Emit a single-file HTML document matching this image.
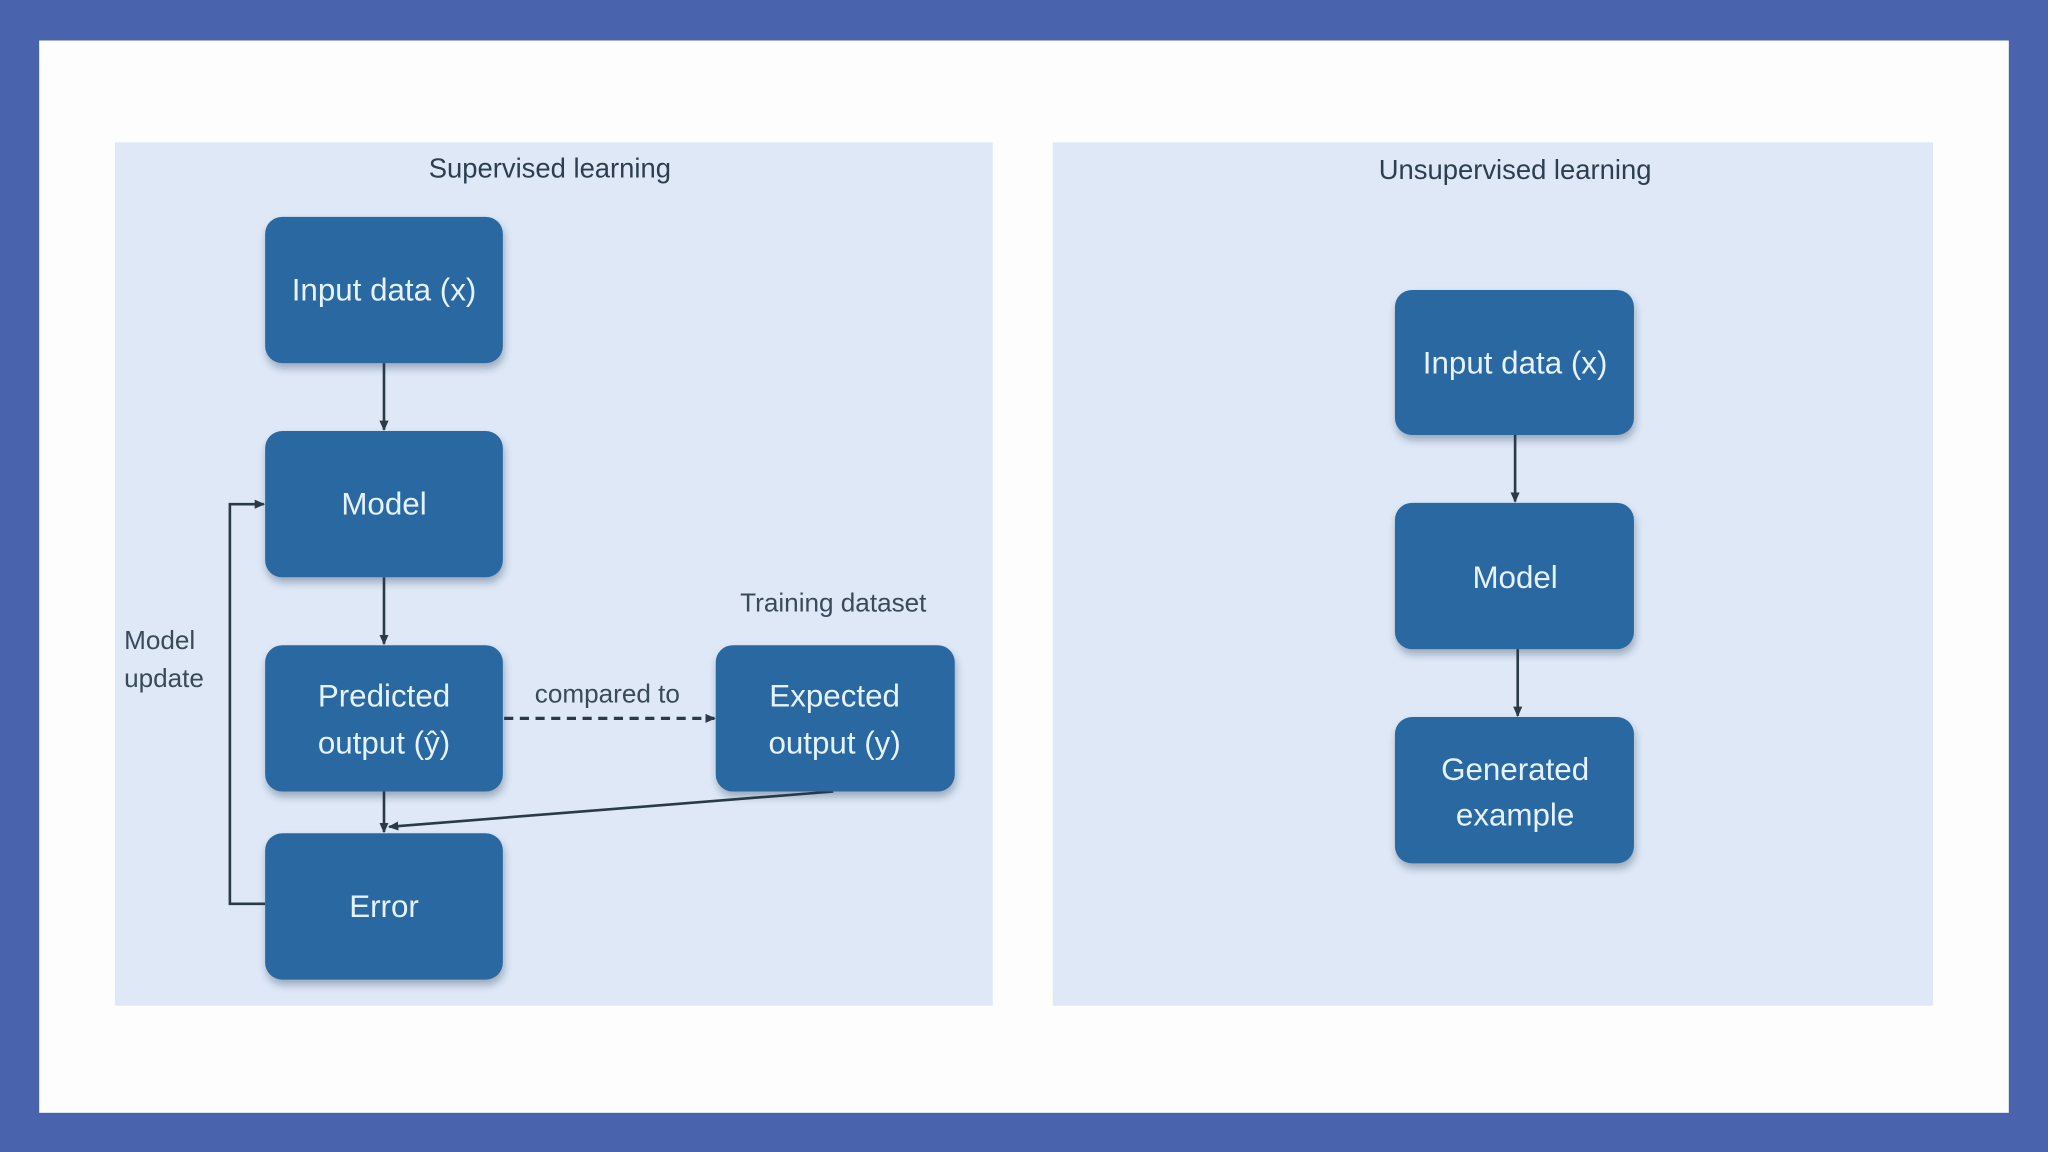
<!DOCTYPE html>
<html><head><meta charset="utf-8">
<style>
html,body{margin:0;padding:0;width:2048px;height:1152px;overflow:hidden;background:#4a63ad;}
svg{display:block}
text{font-family:"Liberation Sans Narrow","Liberation Sans",sans-serif;}
</style></head><body>
<svg width="2048" height="1152" viewBox="0 0 1568 882" xmlns="http://www.w3.org/2000/svg">
<defs>
<filter id="sh" x="-10%" y="-10%" width="130%" height="140%">
<feDropShadow dx="1" dy="4" stdDeviation="3" flood-color="#1a3550" flood-opacity="0.35"/>
</filter>
<marker id="ar" markerWidth="8" markerHeight="8" refX="7" refY="4" orient="auto" markerUnits="userSpaceOnUse">
<path d="M0,0.5 L8,4 L0,7.5 z" fill="#2b3a48"/>
</marker>
</defs>
<rect x="0" y="0" width="1568" height="882" fill="#4a63ad"/>
<rect x="30" y="31" width="1508" height="821" fill="#fdfdfe"/>
<rect x="88" y="109" width="672" height="661" fill="#dee8f6"/>
<rect x="806" y="109" width="674" height="661" fill="#dee8f6"/>

<g fill="#2c3e50" font-size="21" text-anchor="middle">
<text x="421" y="136">Supervised learning</text>
<text x="1160" y="137">Unsupervised learning</text>
</g>
<g fill="#3a4a5a" font-size="20">
<text x="638" y="468" text-anchor="middle">Training dataset</text>
<text x="465" y="538" text-anchor="middle">compared to</text>
<text x="95" y="497">Model</text>
<text x="95" y="526">update</text>
</g>

<g stroke="#2b3a48" stroke-width="2" fill="none">
<line x1="294" y1="278" x2="294" y2="329" marker-end="url(#ar)"/>
<line x1="294" y1="442" x2="294" y2="493" marker-end="url(#ar)"/>
<line x1="294" y1="606" x2="294" y2="637" marker-end="url(#ar)"/>
<line x1="638" y1="606" x2="298" y2="633" marker-end="url(#ar)"/>
<line x1="386" y1="550" x2="547" y2="550" stroke-dasharray="7,5" stroke-width="2.5" marker-end="url(#ar)"/>
<polyline points="203,692 176,692 176,386 202,386" marker-end="url(#ar)"/>
<line x1="1160" y1="333" x2="1160" y2="384" marker-end="url(#ar)"/>
<line x1="1162" y1="497" x2="1162" y2="548" marker-end="url(#ar)"/>
</g>

<g fill="#2a68a2" filter="url(#sh)">
<rect x="203" y="166" width="182" height="112" rx="13"/>
<rect x="203" y="330" width="182" height="112" rx="13"/>
<rect x="203" y="494" width="182" height="112" rx="13"/>
<rect x="203" y="638" width="182" height="112" rx="13"/>
<rect x="548" y="494" width="183" height="112" rx="13"/>
<rect x="1068" y="222" width="183" height="111" rx="13"/>
<rect x="1068" y="385" width="183" height="112" rx="13"/>
<rect x="1068" y="549" width="183" height="112" rx="13"/>
</g>

<g fill="#e6f3ff" font-size="24" text-anchor="middle">
<text x="294" y="230">Input data (x)</text>
<text x="294" y="394">Model</text>
<text x="294" y="541">Predicted</text>
<text x="294" y="577">output (ŷ)</text>
<text x="294" y="702">Error</text>
<text x="639" y="541">Expected</text>
<text x="639" y="577">output (y)</text>
<text x="1160" y="286">Input data (x)</text>
<text x="1160" y="450">Model</text>
<text x="1160" y="597">Generated</text>
<text x="1160" y="632">example</text>
</g>
</svg>
</body></html>
